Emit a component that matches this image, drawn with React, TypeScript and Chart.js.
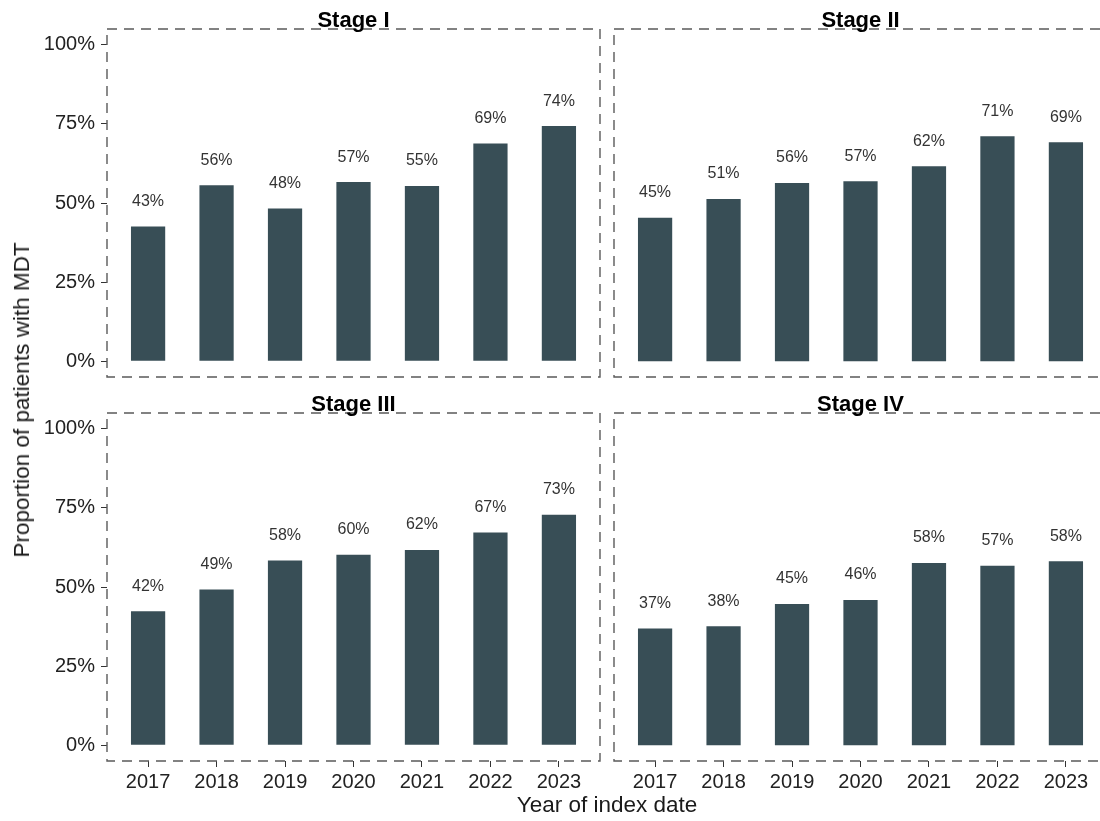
import React, { useEffect, useRef } from 'react';
import { Chart, registerables } from 'chart.js';

Chart.register(...registerables);

const years = ['2017', '2018', '2019', '2020', '2021', '2022', '2023'];
const stageNames = ['Stage I', 'Stage II', 'Stage III', 'Stage IV'];
const stageI = [42.6, 55.6, 48.3, 56.6, 55.4, 68.8, 74.3];
const stageII = [45.3, 51.3, 56.3, 56.9, 61.6, 71.1, 69.2];
const stageIII = [42.3, 49.2, 58.4, 60.2, 61.7, 67.2, 72.8];
const stageIV = [36.9, 37.6, 44.6, 45.9, 57.6, 56.7, 58.1];
const yTickValues = [0, 25, 50, 75, 100];
const yTitle = 'Proportion of patients with MDT';
const xTitle = 'Year of index date';

const FONT = '"Liberation Sans", Arial, Helvetica, sans-serif';
const BAR_COLOR = '#384e56';
const BORDER_COLOR = '#5a5a5a';

const PANEL_W = 493;
const PANEL_H = 348;

type PanelCfg = {
  name: string;
  values: number[];
  left: number;
  top: number;
  showY: boolean;
  showX: boolean;
};

const panels: PanelCfg[] = [
  { name: stageNames[0], values: stageI, left: 107, top: 29, showY: true, showX: false },
  { name: stageNames[1], values: stageII, left: 614, top: 29, showY: false, showX: false },
  { name: stageNames[2], values: stageIII, left: 107, top: 413, showY: true, showX: true },
  { name: stageNames[3], values: stageIV, left: 614, top: 413, showY: false, showX: true },
];

const decorPlugin = {
  id: 'panelDecor',
  afterDatasetsDraw(chart: any, _args: any, opts: any) {
    const { ctx, chartArea: a } = chart;
    const meta = chart.getDatasetMeta(0);
    const data = chart.data.datasets[0].data as { x: number; y: number }[];
    ctx.save();
    // value labels
    ctx.font = `16px ${FONT}`;
    ctx.fillStyle = '#333333';
    ctx.textAlign = 'center';
    ctx.textBaseline = 'middle';
    meta.data.forEach((bar: any, i: number) => {
      ctx.fillText(`${Math.round(data[i].y)}%`, bar.x, bar.y - 25);
    });
    // dashed panel border
    ctx.strokeStyle = BORDER_COLOR;
    ctx.lineWidth = 1.4;
    ctx.setLineDash([10, 7]);
    ctx.strokeRect(a.left, a.top, a.right - a.left, a.bottom - a.top);
    ctx.setLineDash([]);
    // strip title
    ctx.font = `bold 22px ${FONT}`;
    ctx.fillStyle = '#000000';
    ctx.textBaseline = 'alphabetic';
    ctx.fillText(opts.title, (a.left + a.right) / 2, a.top - 2);
    ctx.restore();
  },
};

function Panel({ cfg }: { cfg: PanelCfg }) {
  const ref = useRef<HTMLCanvasElement | null>(null);
  const padL = cfg.showY ? 107 : 10;
  const padT = 29;
  const padR = 10;
  const padB = cfg.showX ? 48 : 24;
  const cw = padL + PANEL_W + padR;
  const ch = padT + PANEL_H + padB;

  useEffect(() => {
    if (!ref.current) return;
    const chart = new Chart(ref.current, {
      type: 'bar',
      data: {
        datasets: [
          {
            data: cfg.values.map((v, i) => ({ x: i, y: v })),
            backgroundColor: BAR_COLOR,
            borderWidth: 0,
            barPercentage: 0.5,
            categoryPercentage: 1,
          },
        ],
      },
      options: {
        responsive: false,
        animation: false,
        devicePixelRatio: 1,
        layout: {
          padding: {
            left: cfg.showY ? 0 : padL,
            top: padT,
            right: padR,
            bottom: cfg.showX ? 0 : padB,
          },
        },
        plugins: {
          legend: { display: false },
          tooltip: { enabled: false },
          panelDecor: { title: cfg.name },
        } as any,
        scales: {
          x: {
            type: 'linear',
            offset: false,
            min: -0.6,
            max: years.length - 1 + 0.6,
            display: cfg.showX,
            afterBuildTicks: (axis: any) => {
              axis.ticks = years.map((_, i) => ({ value: i }));
            },
            afterFit: (axis: any) => {
              if (cfg.showX) axis.height = padB;
            },
            border: { display: false },
            grid: {
              offset: false,
              drawOnChartArea: false,
              drawTicks: true,
              tickLength: 6,
              color: '#333333',
              lineWidth: 1,
            },
            ticks: {
              autoSkip: false,
              maxRotation: 0,
              padding: 3,
              color: '#222222',
              font: { size: 20, family: FONT },
              callback: (v: any) => years[Math.round(Number(v))] ?? '',
            },
          },
          y: {
            type: 'linear',
            min: -5,
            max: 105,
            display: cfg.showY,
            afterBuildTicks: (axis: any) => {
              axis.ticks = yTickValues.map((v) => ({ value: v }));
            },
            afterFit: (axis: any) => {
              if (cfg.showY) axis.width = padL;
            },
            border: { display: false },
            grid: {
              drawOnChartArea: false,
              drawTicks: true,
              tickLength: 6,
              color: '#333333',
              lineWidth: 1,
            },
            ticks: {
              padding: 6,
              color: '#222222',
              font: { size: 20, family: FONT },
              callback: (v: any) => `${v}%`,
            },
          },
        },
      } as any,
      plugins: [decorPlugin],
    });
    return () => chart.destroy();
  }, []);

  return (
    <canvas
      ref={ref}
      width={cw}
      height={ch}
      style={{
        position: 'absolute',
        left: cfg.left - padL,
        top: cfg.top - padT,
        width: cw,
        height: ch,
      }}
    />
  );
}

export default function App() {
  useEffect(() => {
    document.body.style.margin = '0';
    document.body.style.overflow = 'hidden';
  }, []);
  return (
    <div
      style={{
        position: 'absolute',
        left: 0,
        top: 0,
        width: 1100,
        height: 821,
        overflow: 'hidden',
        background: '#ffffff',
        fontFamily: FONT,
      }}
    >
      {panels.map((p) => (
        <Panel key={p.name} cfg={p} />
      ))}
      <div style={{ position: 'absolute', left: 22, top: 400, width: 0, height: 0 }}>
        <div
          style={{
            position: 'absolute',
            left: 0,
            top: 0,
            transform: 'translate(-50%, -50%) rotate(-90deg)',
            whiteSpace: 'nowrap',
            fontSize: 22.5,
            color: '#1a1a1a',
            lineHeight: '26px',
          }}
        >
          {yTitle}
        </div>
      </div>
      <div style={{ position: 'absolute', left: 607, top: 805, width: 0, height: 0 }}>
        <div
          style={{
            position: 'absolute',
            left: 0,
            top: 0,
            transform: 'translate(-50%, -50%)',
            whiteSpace: 'nowrap',
            fontSize: 22.5,
            color: '#1a1a1a',
            lineHeight: '26px',
          }}
        >
          {xTitle}
        </div>
      </div>
    </div>
  );
}
